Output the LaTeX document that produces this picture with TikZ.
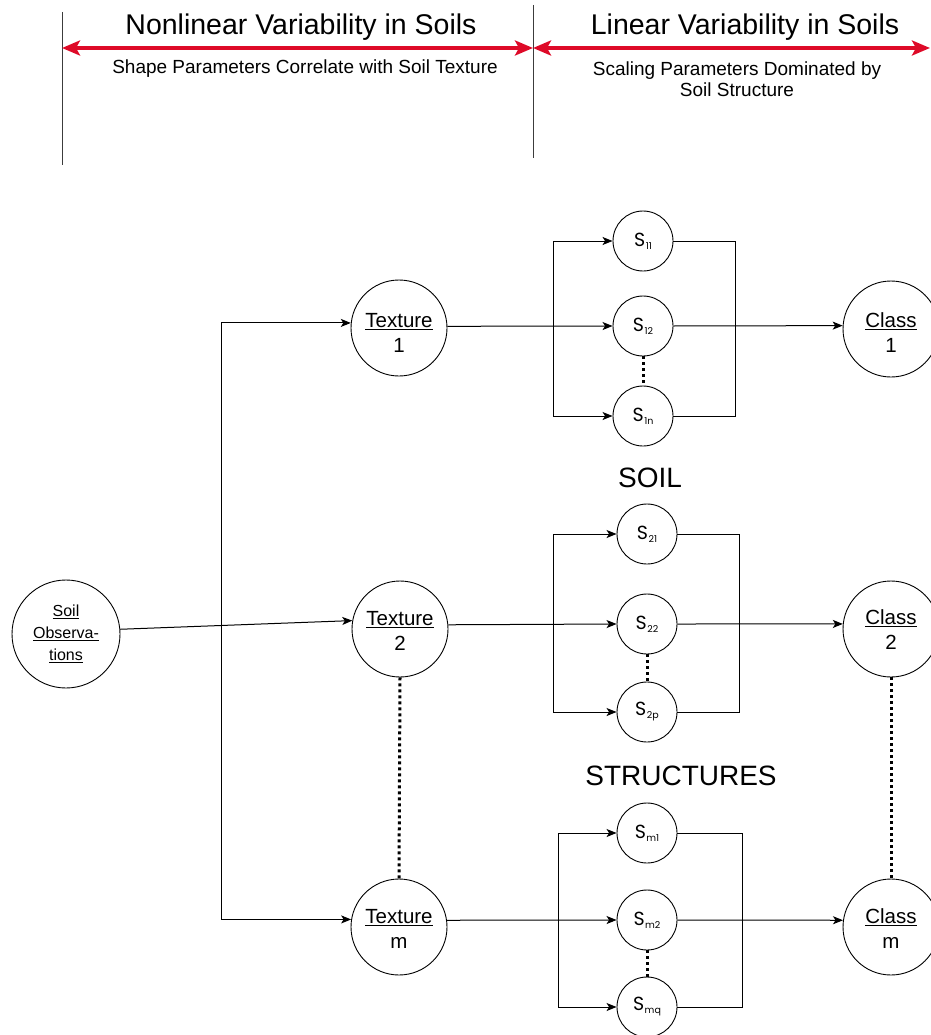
\documentclass[tikz,border=0pt]{standalone}
\usepackage{fontspec}
\setmainfont{Liberation Sans}
\newfontfamily\sgeo{Poppins}
\usetikzlibrary{arrows.meta}
\definecolor{redarr}{RGB}{222,10,40}
\definecolor{hdrline}{RGB}{60,60,60}
\newcommand{\Slab}[1]{{\sgeo\fontsize{19}{19}\selectfont S\kern0.5pt\raisebox{-3pt}{\fontsize{9.5}{9.5}\selectfont #1}}}
\newcommand{\ctext}[3]{\raisebox{#3}[0pt][0pt]{\begin{tabular}{@{}c@{}}#1\\#2\end{tabular}}}
\begin{document}
\begin{tikzpicture}[x=1pt,y=-1pt,
  bigc/.style={circle,draw,line width=0.9pt,minimum size=96pt,inner sep=0pt,font=\fontsize{20.5}{25}\selectfont},
  obsc/.style={circle,draw,line width=0.9pt,minimum size=108pt,inner sep=0pt,align=center,font=\fontsize{16}{22}\selectfont},
  sc/.style={circle,draw,line width=0.9pt,minimum size=60pt,inner sep=0pt},
  arr/.style={-{Stealth[length=10pt,width=8pt,inset=2.5pt]},line width=1pt},
  ln/.style={line width=1pt},
  dots/.style={line width=3pt,dash pattern=on 3pt off 3pt},
  redar/.style={{Stealth[length=18pt,width=15pt,inset=4pt]}-{Stealth[length=18pt,width=15pt,inset=4pt]},line width=3.5pt,draw=redarr},
  hdr/.style={draw=hdrline,line width=1pt},
  title/.style={font=\fontsize{28.5}{30}\selectfont,inner sep=0pt},
  sub/.style={font=\fontsize{19}{21}\selectfont,inner sep=0pt,align=center},
  big/.style={font=\fontsize{28}{30}\selectfont,inner sep=0pt}
]
\useasboundingbox (0,0) rectangle (930,1035);

% header
\coordinate (hl1) at (62,12);
\coordinate (hl2) at (62,165);
\coordinate (hm1) at (533,5);
\coordinate (hm2) at (533,158);
\coordinate (ra) at (62,48);
\coordinate (rb) at (533,48);
\coordinate (rc) at (930,48);
\draw[hdr] (hl1) -- (hl2);
\draw[hdr] (hm1) -- (hm2);
\draw[redar] (ra) -- (rb);
\draw[redar] (rb) -- (rc);
\node[title] (t1) at (301,27) {Nonlinear Variability in Soils};
\node[title] (t2) at (745,27) {Linear Variability in Soils};
\node[sub] (s1) at (305,69) {Shape Parameters Correlate with Soil Texture};
\node[sub] (s2) at (737,79) {Scaling Parameters Dominated by\\Soil Structure};

% main nodes
\node[obsc] (obs) at (66,634) {\underline{Soil}\\\underline{Observa-}\\\underline{tions}};
\node[bigc] (tex1) at (399,328) {\ctext{\underline{Texture}}{1}{-12pt}};
\node[bigc] (tex2) at (400,629) {\ctext{\underline{Texture}}{2}{-9pt}};
\node[bigc] (texm) at (399,927) {\ctext{\underline{Texture}}{m}{-9pt}};
\node[bigc] (cls1) at (891,329) {\ctext{\underline{Class}}{1}{-11pt}};
\node[bigc] (cls2) at (891,629) {\ctext{\underline{Class}}{2}{-8pt}};
\node[bigc] (clsm) at (891,927) {\ctext{\underline{Class}}{m}{-9pt}};

\node[sc] (S11) at (643,241) {\Slab{11}};
\node[sc] (S12) at (643,326) {\Slab{12}};
\node[sc] (S1n) at (643,416) {\Slab{1n}};
\node[sc] (S21) at (647,534) {\Slab{21}};
\node[sc] (S22) at (647,624) {\Slab{22}};
\node[sc] (S2p) at (647,712) {\Slab{2p}};
\node[sc] (Sm1) at (647,833) {\Slab{m1}};
\node[sc] (Sm2) at (647,920) {\Slab{m2}};
\node[sc] (Smq) at (647,1007) {\Slab{mq}};

\node[big] (soil) at (650,478) {SOIL};
\node[big] (struct) at (681,776) {STRUCTURES};

% left part
\draw[arr] (obs.5) -- (tex2.170);
\coordinate (j) at (221,624);
\draw[arr] (j) |- (tex1.174);
\draw[arr] (j) |- (texm.171);
\draw[dots] (tex2.south) -- (texm.north);
\draw[dots] (cls2.south) -- (clsm.north);

% row 1
\coordinate (bl1) at (553,326);
\coordinate (br1) at (735,326);
\draw[arr] (tex1.2) -- (S12.west);
\draw[arr] (bl1) |- (S11.west);
\draw[arr] (bl1) |- (S1n.west);
\draw[ln] (S11.east) -| (br1);
\draw[ln] (S1n.east) -| (br1);
\draw[arr] (S12.east) -- (cls1.176);
\draw[dots] (S12.south) -- (S1n.north);

% row 2
\coordinate (bl2) at (553,624);
\coordinate (br2) at (739,624);
\draw[arr] (tex2.5) -- (S22.west);
\draw[arr] (bl2) |- (S21.west);
\draw[arr] (bl2) |- (S2p.west);
\draw[ln] (S21.east) -| (br2);
\draw[ln] (S2p.east) -| (br2);
\draw[arr] (S22.east) -- (cls2.174);
\draw[dots] (S22.south) -- (S2p.north);

% row 3
\coordinate (bl3) at (558,920);
\coordinate (br3) at (742,920);
\draw[arr] (texm.8) -- (Sm2.west);
\draw[arr] (bl3) |- (Sm1.west);
\draw[arr] (bl3) |- (Smq.west);
\draw[ln] (Sm1.east) -| (br3);
\draw[ln] (Smq.east) -| (br3);
\draw[arr] (Sm2.east) -- (clsm.172);
\draw[dots] (Sm2.south) -- (Smq.north);
\end{tikzpicture}
\end{document}
